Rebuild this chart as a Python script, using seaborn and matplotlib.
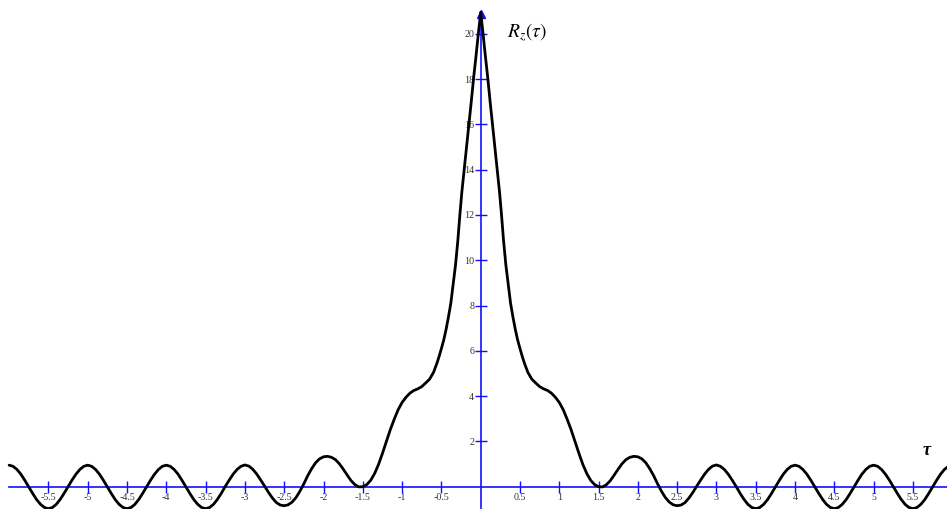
import numpy as np
import pandas as pd
import matplotlib
matplotlib.use("Agg")
import matplotlib.pyplot as plt
import seaborn as sns

# Autocorrelation R_z(tau), read for tau >= 0; the function is even.
tau_pos = [
    0.00, 0.03, 0.06, 0.09, 0.12, 0.15, 0.18, 0.21, 0.24, 0.265,
    0.29, 0.32, 0.35, 0.38, 0.41, 0.44, 0.47, 0.50, 0.53, 0.56,
    0.60, 0.65, 0.70, 0.75, 0.80, 0.85, 0.90, 0.95, 1.00, 1.05,
    1.10, 1.15, 1.20, 1.25, 1.30, 1.35, 1.40, 1.45, 1.50, 1.55,
    1.60, 1.65, 1.70, 1.75, 1.80, 1.85, 1.90, 1.95, 2.00, 2.05,
    2.10, 2.15, 2.20, 2.25, 2.30, 2.35, 2.40, 2.45, 2.50, 2.55,
    2.60, 2.65, 2.70, 2.75, 2.80, 2.85, 2.90, 2.95, 3.00, 3.05,
    3.10, 3.15, 3.20, 3.25, 3.30, 3.35, 3.40, 3.45, 3.50, 3.55,
    3.60, 3.65, 3.70, 3.75, 3.80, 3.85, 3.90, 3.95, 4.00, 4.05,
    4.10, 4.15, 4.20, 4.25, 4.30, 4.35, 4.40, 4.45, 4.50, 4.55,
    4.60, 4.65, 4.70, 4.75, 4.80, 4.85, 4.90, 4.95, 5.00, 5.05,
    5.10, 5.15, 5.20, 5.25, 5.30, 5.35, 5.40, 5.45, 5.50, 5.55,
    5.60, 5.65, 5.70, 5.75, 5.80, 5.85, 5.90, 5.95, 6.00,
]
r_pos = [
    20.95, 20.0, 19.0, 18.05, 17.0, 16.0, 15.0, 14.0, 13.0, 12.0,
    10.9, 9.8, 8.95, 8.1, 7.5, 6.95, 6.48, 6.1, 5.74, 5.42,
    5.05, 4.75, 4.58, 4.42, 4.32, 4.25, 4.13, 3.95, 3.72, 3.40,
    2.98, 2.52, 2.0, 1.47, 0.98, 0.58, 0.28, 0.09, 0.0, -0.01,
    0.09, 0.27, 0.52, 0.78, 1.02, 1.20, 1.30, 1.34, 1.32, 1.23,
    1.06, 0.80, 0.49, 0.13, -0.20, -0.48, -0.68, -0.80, -0.84, -0.81,
    -0.70, -0.50, -0.25, 0.03, 0.30, 0.56, 0.77, 0.91, 0.96, 0.90,
    0.76, 0.55, 0.29, 0.01, -0.29, -0.56, -0.78, -0.92, -0.97, -0.92,
    -0.78, -0.57, -0.30, -0.01, 0.28, 0.55, 0.76, 0.90, 0.95, 0.90,
    0.76, 0.55, 0.29, 0.0, -0.29, -0.56, -0.78, -0.92, -0.97, -0.92,
    -0.78, -0.57, -0.30, -0.01, 0.28, 0.55, 0.76, 0.90, 0.95, 0.90,
    0.76, 0.55, 0.29, 0.0, -0.29, -0.56, -0.78, -0.92, -0.97, -0.92,
    -0.78, -0.57, -0.30, -0.01, 0.28, 0.55, 0.76, 0.90, 0.95,
]

x_ticks = [-5.5, -5, -4.5, -4, -3.5, -3, -2.5, -2, -1.5, -1, -0.5,
           0.5, 1, 1.5, 2, 2.5, 3, 3.5, 4, 4.5, 5, 5.5]
x_tick_labels = ["-5.5", "-5", "-4.5", "-4", "-3.5", "-3", "-2.5", "-2", "-1.5", "-1", "-0.5",
                 "0.5", "1", "1.5", "2", "2.5", "3", "3.5", "4", "4.5", "5", "5.5"]
y_ticks = [2, 4, 6, 8, 10, 12, 14, 16, 18, 20]
y_tick_labels = ["2", "4", "6", "8", "10", "12", "14", "16", "18", "20"]

tau_arr = np.array(tau_pos)
r_arr = np.array(r_pos)
tau_all = np.concatenate([-tau_arr[::-1], tau_arr[1:]])
r_all = np.concatenate([r_arr[::-1], r_arr[1:]])
df = pd.DataFrame({"tau": tau_all, "R": r_all})

sns.set_style("white")
plt.rcParams["font.family"] = ["Liberation Serif", "DejaVu Serif"]
plt.rcParams["mathtext.fontset"] = "stix"

fig = plt.figure(figsize=(9.47, 5.09), dpi=100)
ax = fig.add_axes([0, 0, 1, 1])
ax.set_facecolor("white")

axis_blue = "#1010ff"

sns.lineplot(data=df, x="tau", y="R", color="black", linewidth=2.0,
             ax=ax, zorder=4, estimator=None, sort=False)

ax.set_xlim(-6.116, 5.933)
ax.set_ylim(-0.985, 21.49)

# Axes drawn through the origin
for side in ["top", "right"]:
    ax.spines[side].set_visible(False)
for side in ["left", "bottom"]:
    ax.spines[side].set_color(axis_blue)
    ax.spines[side].set_linewidth(1.2)
    ax.spines[side].set_zorder(3)
ax.spines["left"].set_position(("data", 0))
ax.spines["bottom"].set_position(("data", 0))
ax.spines["bottom"].set_bounds(-6.0, 6.2)
ax.spines["left"].set_bounds(-1.2, 20.9)

# Arrow head on the vertical axis
ax.plot([0], [20.85], marker="^", markersize=6, color=axis_blue,
        clip_on=False, zorder=3)

ax.set_xticks(x_ticks)
ax.set_xticklabels(x_tick_labels)
ax.set_yticks(y_ticks)
ax.set_yticklabels(y_tick_labels)
ax.tick_params(axis="both", direction="inout", length=8, width=1.0,
               color=axis_blue, labelsize=7.2, labelcolor="#333333", pad=0.6,
               bottom=True, left=True, top=False, right=False)
ax.set_xlabel("")
ax.set_ylabel("")
ax.grid(False)

H = 509
ax.text(507, H - 38, r"$R_z(\tau)$", transform=None, fontsize=14,
        ha="left", va="baseline", color="black")
ax.text(927, H - 455, "τ", transform=None, fontsize=13, fontstyle="italic",
        fontweight="bold", ha="center", va="baseline", color="black",
        family=["Liberation Serif", "DejaVu Serif"])

fig.savefig("out.png", dpi=100, facecolor="white")
